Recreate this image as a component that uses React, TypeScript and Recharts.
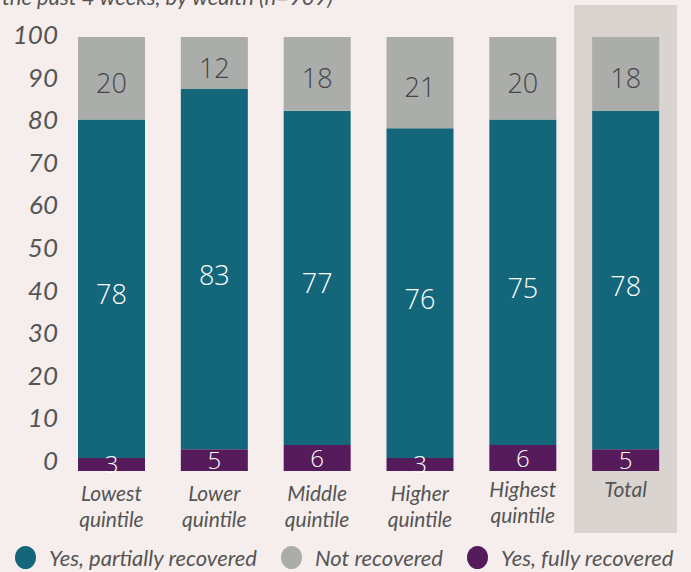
import {
  BarChart,
  Bar,
  XAxis,
  YAxis,
  Legend,
  LabelList,
  ReferenceArea,
} from "recharts";

const categories = [
  "Lowest quintile",
  "Lower quintile",
  "Middle quintile",
  "Higher quintile",
  "Highest quintile",
  "Total",
];
const fullyRecovered = [3, 5, 6, 3, 6, 5];
const partiallyRecovered = [78, 83, 77, 76, 75, 78];
const notRecovered = [20, 12, 18, 21, 20, 18];
const yTicks = [0, 10, 20, 30, 40, 50, 60, 70, 80, 90, 100];

const TEAL = "#14677b";
const GRAY = "#abadab";
const PURPLE = "#561b5a";
const BG = "#f6eeec";
const HIGHLIGHT = "#d9d4d0";
const TEXT = "#555555";

const legendItems = [
  { label: "Yes, partially recovered", color: TEAL },
  { label: "Not recovered", color: GRAY },
  { label: "Yes, fully recovered", color: PURPLE },
];

const data = categories.map((name, i) => ({
  name,
  fully: fullyRecovered[i],
  partially: partiallyRecovered[i],
  not: notRecovered[i],
}));

function XTick(props: any) {
  const { x, y, payload } = props;
  const lines = String(payload.value).split(" ");
  // the last two labels sit a little higher in the original
  const lift = props.index >= 4 ? -4 : 0;
  return (
    <text
      x={x}
      y={y + lift}
      textAnchor="middle"
      fill={TEXT}
      fontFamily="Lato"
      fontStyle="italic"
      fontSize={21}
    >
      {lines.map((l: string, i: number) => (
        <tspan key={i} x={x} dy={i === 0 ? 22 : 26}>
          {l}
        </tspan>
      ))}
    </text>
  );
}

function YTick(props: any) {
  const { x, y, payload } = props;
  const shift = -10 + payload.value * 0.08;
  return (
    <text
      x={x + 6}
      y={y + shift}
      dy={9}
      textAnchor="end"
      fill={TEXT}
      fontFamily="Lato"
      fontStyle="italic"
      fontSize={26}
    >
      {payload.value}
    </text>
  );
}

function LegendContent() {
  return (
    <div
      style={{
        display: "flex",
        alignItems: "center",
        fontFamily: "Lato",
        fontStyle: "italic",
        fontSize: 22,
        color: TEXT,
        paddingLeft: 15,
        height: 30,
        whiteSpace: "nowrap",
      }}
    >
      {legendItems.map((it, i) => (
        <div
          key={it.label}
          style={{ display: "flex", alignItems: "center", marginRight: i < 2 ? 24 : 0 }}
        >
          <span
            style={{
              display: "inline-block",
              width: 21,
              height: 23,
              borderRadius: "50%",
              background: it.color,
              marginRight: 13,
            }}
          />
          {it.label}
        </div>
      ))}
    </div>
  );
}

export default function App() {
  return (
    <div
      style={{
        position: "absolute",
        top: 0,
        left: 0,
        width: 691,
        height: 572,
        background: BG,
        overflow: "hidden",
      }}
    >
      <div
        style={{
          position: "absolute",
          top: -17,
          left: 2,
          fontFamily: "Lato",
          fontStyle: "italic",
          fontSize: 22,
          color: TEXT,
          whiteSpace: "nowrap",
        }}
      >
        the past 4 weeks, by wealth (n=909)
      </div>
      <BarChart
        width={691}
        height={572}
        data={data}
        margin={{ top: 37, right: 14, left: 0, bottom: 0 }}
        barSize={67}
      >
        <ReferenceArea
          x1="Total"
          x2="Total"
          fill={HIGHLIGHT}
          fillOpacity={1}
          ifOverflow="visible"
          shape={(p: any) => (
            <rect
              x={p.x}
              y={p.y - 32}
              width={p.width}
              height={p.height + 94}
              fill={HIGHLIGHT}
            />
          )}
        />
        <XAxis
          dataKey="name"
          axisLine={false}
          tickLine={false}
          interval={0}
          height={71}
          tick={<XTick />}
        />
        <YAxis
          domain={[0, 100]}
          ticks={yTicks}
          allowDataOverflow
          axisLine={false}
          tickLine={false}
          width={60}
          tick={<YTick />}
        />
        <Legend verticalAlign="bottom" height={30} content={<LegendContent />} />
        <Bar dataKey="fully" stackId="a" fill={PURPLE} isAnimationActive={false}>
          <LabelList
            dataKey="fully"
            position="center"
            fill="#ffffff"
            fontFamily="Open Sans"
            fontWeight={300}
            fontSize={24}
          />
        </Bar>
        <Bar dataKey="partially" stackId="a" fill={TEAL} isAnimationActive={false}>
          <LabelList
            dataKey="partially"
            position="center"
            fill="#ffffff"
            fontFamily="Open Sans"
            fontWeight={300}
            fontSize={27}
            dy={6}
          />
        </Bar>
        <Bar dataKey="not" stackId="a" fill={GRAY} isAnimationActive={false}>
          <LabelList
            dataKey="not"
            position="center"
            fill="#444444"
            fontFamily="Open Sans"
            fontWeight={300}
            fontSize={27}
            dy={5}
          />
        </Bar>
      </BarChart>
    </div>
  );
}
